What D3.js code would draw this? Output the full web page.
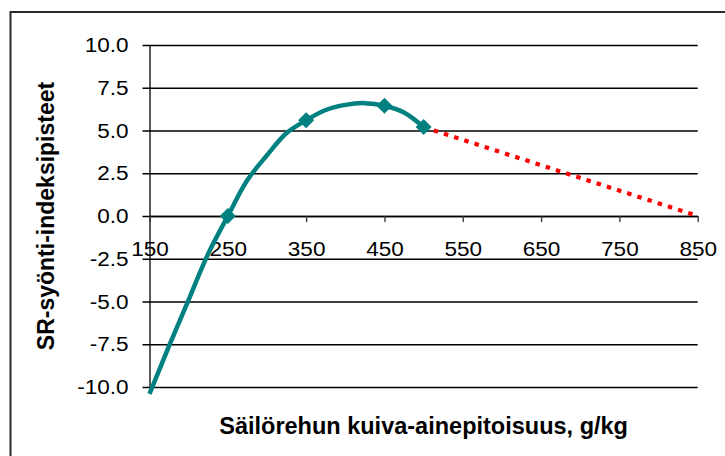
<!DOCTYPE html>
<html>
<head>
<meta charset="utf-8">
<script src="https://cdn.jsdelivr.net/npm/d3@7"></script>
<style>
  body { margin: 0; background: #fff; }
  svg { display: block; }
</style>
</head>
<body>
<div class="chart"></div>
<script>
// measured curve (smoothed in the original)
const curveX = [150, 175, 200, 225, 250, 275, 300, 325, 350, 375, 400, 425, 450, 475, 500];
const curveY = [-10.4, -7.6, -4.9, -2.2, 0.0, 2.1, 3.55, 4.85, 5.6, 6.2, 6.5, 6.6, 6.45, 6.05, 5.2];

// diamond markers
const markerX = [250, 350, 450, 500];
const markerY = [0.0, 5.6, 6.45, 5.2];

// extrapolated (dotted) part
const trendX = [500, 850];
const trendY = [5.2, 0.0];

const xTicks = [150, 250, 350, 450, 550, 650, 750, 850];
const yTicks = [-10, -7.5, -5, -2.5, 0, 2.5, 5, 7.5, 10];

const xTitle = 'Säilörehun kuiva-ainepitoisuus, g/kg';
const yTitle = 'SR-syönti-indeksipisteet';

const chartWidth = 725;
const chartHeight = 456;

const plot = { left: 149.5, right: 697.7, top: 45, bottom: 387 };

const svg = d3.select('.chart')
  .append('svg')
  .attr('width', chartWidth)
  .attr('height', chartHeight);

// outer frame (runs off the picture on the right and bottom)
svg.append('rect')
  .attr('x', 10.5)
  .attr('y', 12)
  .attr('width', 800)
  .attr('height', 600)
  .attr('fill', 'none')
  .attr('stroke', '#2a2a2a')
  .attr('stroke-width', 2);

const xScale = d3.scaleLinear()
  .domain([150, 850])
  .range([plot.left, plot.right]);

const yScale = d3.scaleLinear()
  .domain([-10, 10])
  .range([plot.bottom, plot.top]);

const labelFont = 'Liberation Sans, Arial, sans-serif';

// y axis + gridlines
const yAxis = d3.axisLeft(yScale)
  .tickValues(yTicks)
  .tickSizeInner(-(plot.right - plot.left))
  .tickSizeOuter(0)
  .tickPadding(21)
  .tickFormat(d => d.toFixed(1));

const gy = svg.append('g')
  .attr('transform', `translate(${plot.left}, 0)`)
  .call(yAxis);
gy.select('.domain').attr('stroke', '#000').attr('stroke-width', 1.3);
gy.selectAll('.tick line')
  .attr('x1', -7)
  .attr('stroke', '#000')
  .attr('stroke-width', 1.3);
gy.selectAll('.tick text')
  .attr('font-family', labelFont)
  .attr('font-size', '20.5px')
  .attr('fill', '#000')
  .attr('x', -21 / 1.1)
  .attr('transform', 'scale(1.1,1)');

// x axis crossing at y = 0
const xAxis = d3.axisBottom(xScale)
  .tickValues(xTicks)
  .tickSizeInner(6)
  .tickSizeOuter(0)
  .tickPadding(19);

const gx = svg.append('g')
  .attr('transform', `translate(0, ${yScale(0)})`)
  .call(xAxis);
gx.select('.domain').attr('stroke', '#000').attr('stroke-width', 1.3);
gx.selectAll('.tick line').attr('stroke', '#333').attr('stroke-width', 1.3);
gx.selectAll('.tick text')
  .attr('font-family', labelFont)
  .attr('font-size', '20.5px')
  .attr('fill', '#000')
  .attr('transform', 'scale(1.1,1)')
  .attr('dy', '0.71em');

// teal curve
const curveData = curveX.map((x, i) => ({ x, y: curveY[i] }));
const line = d3.line()
  .x(d => xScale(d.x))
  .y(d => yScale(d.y))
  .curve(d3.curveCatmullRom.alpha(0.5));

svg.append('path')
  .datum(curveData)
  .attr('d', line)
  .attr('fill', 'none')
  .attr('stroke', '#008080')
  .attr('stroke-width', 4.5)
  .attr('stroke-linejoin', 'round');

// red dotted extrapolation
const trendData = trendX.map((x, i) => ({ x, y: trendY[i] }));
svg.append('path')
  .datum(trendData)
  .attr('d', d3.line().x(d => xScale(d.x)).y(d => yScale(d.y)))
  .attr('fill', 'none')
  .attr('stroke', '#ff0000')
  .attr('stroke-width', 4.2)
  .attr('stroke-dasharray', '4.5,6.2');

// diamonds
const markerData = markerX.map((x, i) => ({ x, y: markerY[i] }));
svg.append('g')
  .selectAll('path')
  .data(markerData)
  .enter()
  .append('path')
  .attr('transform', d => `translate(${xScale(d.x)}, ${yScale(d.y)})`)
  .attr('d', 'M0,-8L8,0L0,8L-8,0Z')
  .attr('fill', '#008080');

// axis titles
svg.append('text')
  .attr('x', (plot.left + plot.right) / 2)
  .attr('y', 434)
  .attr('text-anchor', 'middle')
  .attr('font-family', labelFont)
  .attr('font-weight', 'bold')
  .attr('font-size', '23.5px')
  .attr('fill', '#000')
  .text(xTitle);

svg.append('text')
  .attr('transform', `translate(53.5, ${(plot.top + plot.bottom) / 2}) rotate(-90)`)
  .attr('text-anchor', 'middle')
  .attr('font-family', labelFont)
  .attr('font-weight', 'bold')
  .attr('font-size', '23px')
  .attr('fill', '#000')
  .text(yTitle);
</script>
</body>
</html>
